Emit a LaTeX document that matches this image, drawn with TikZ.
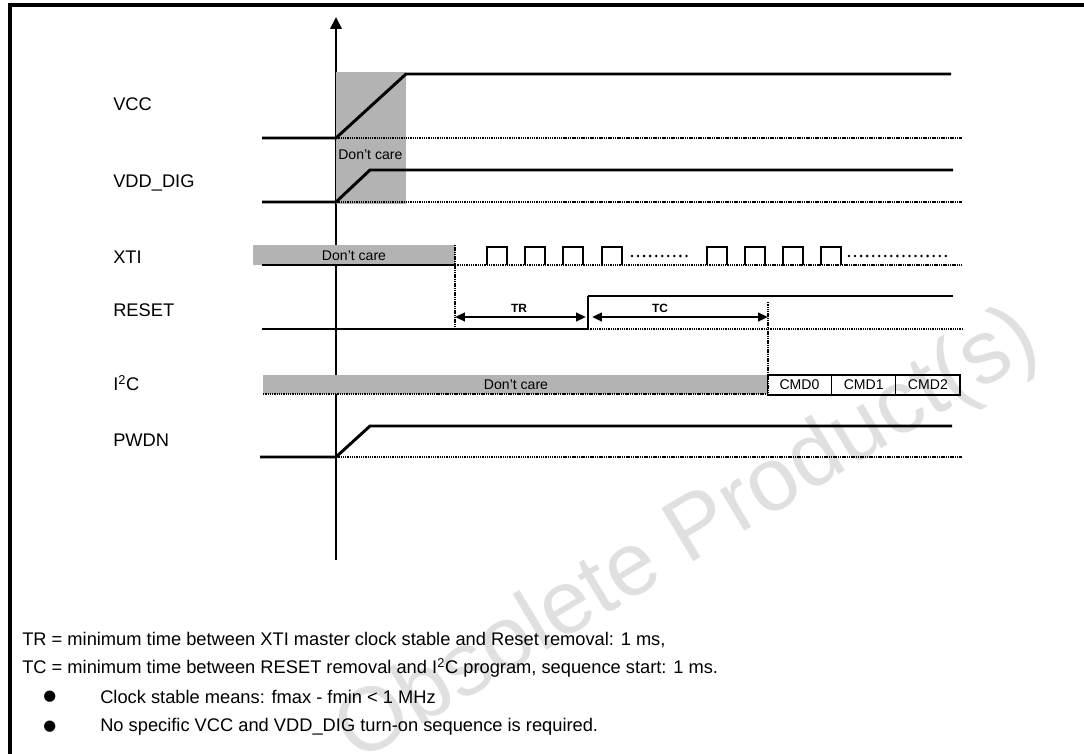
\documentclass[tikz,border=0pt]{standalone}
\usepackage{fontspec}
\setmainfont{Liberation Sans}
\newfontfamily\symfont{DejaVu Sans}
\usetikzlibrary{arrows.meta, positioning}
\definecolor{dcgray}{RGB}{179,179,179}
\definecolor{wmgray}{RGB}{224,224,224}

\begin{document}
\begin{tikzpicture}[
    x=0.025cm, y=-0.025cm,
    sig/.style={line width=2.1pt},
    idle/.style={line width=1pt, dash pattern=on 1pt off 0.6pt},
    thinedge/.style={line width=0.9pt},
    marker/.style={line width=0.8pt, dash pattern=on 1pt off 0.6pt},
    clkdots/.style={line width=2pt, line cap=round, dash pattern=on 0pt off 4.3pt},
    dim/.style={line width=1.6pt, {Triangle[length=7pt,width=6pt]}-{Triangle[length=7pt,width=6pt]}},
    lbl/.style={anchor=west, inner sep=0pt, font=\fontsize{13}{15}\selectfont},
    note/.style={anchor=west, inner sep=0pt, font=\fontsize{13}{15}\selectfont},
    dctext/.style={inner sep=0pt, font=\fontsize{10}{12}\selectfont},
    ttl/.style={inner sep=0pt, font=\fontsize{8.5}{10}\selectfont\bfseries},
    cmdbox/.style={draw, line width=0.8pt, minimum width=1.605cm, minimum height=0.5cm, inner sep=0pt, font=\fontsize{10}{12}\selectfont},
    wm/.style={rotate=31, text=wmgray, inner sep=0pt, font=\fontsize{64}{70}\selectfont}
]
\useasboundingbox (0,0) rectangle (1084,754);

% filigrane
\node[wm] (wmark) at (665,552) {- Obsolete Product(s)};

% cadre
\draw[line width=2.2pt] (10,754) -- (10,5) -- (1084,5);

% axe du temps
\draw[line width=2pt, -{Triangle[length=8.5pt,width=8pt]}] (336,560) -- (336,17);

% zones don't care
\fill[dcgray] (336,72) rectangle (406,204);
\node[dctext, anchor=west] (dcpow) at (338,155) {Don't care};
\fill[dcgray] (253,245) rectangle (455,265);
\node[dctext] (dcxti) at (354,256) {Don't care};
\fill[dcgray] (263,375) rectangle (767,394);
\node[dctext] (dci2c) at (516,385) {Don't care};

% libelles des signaux
\node[lbl] (vcc) at (113,104) {VCC};
\node[lbl] (vdd) at (113,183) {VDD\_DIG};
\node[lbl] (xti) at (113,257) {XTI};
\node[lbl] (reset) at (113,310) {RESET};
\node[lbl] (i2c) at (113,383) {I\textsuperscript{2}C};
\node[lbl] (pwdn) at (113,440) {PWDN};

% VCC et VDD_DIG
\draw[sig] (262,138) -- (336,138) -- (406,74) -- (951,74);
\draw[idle] (336,138) -- (962,138);
\draw[sig] (262,202) -- (336,202) -- (370,170) -- (953,170);
\draw[idle] (336,202) -- (962,202);

% XTI
\draw[thinedge] (262,265) -- (455,265);
\draw[idle] (455,265) -- (962,265);
\foreach \x in {487,525,563,602,707,745,783,821}
    \draw[thinedge] (\x,265) -- (\x,247) -- ++(20,0) -- ++(0,18);
\draw[clkdots] (632,256) -- (688,256);
\draw[clkdots] (849,256) -- (950,256);
\coordinate (xtistop) at (455,245);

% RESET
\draw[sig] (262,329) -- (588,329);
\draw[thinedge] (588,329) -- (588,296);
\draw[sig] (588,296) -- (953,296);
\draw[idle] (588,329) -- (962,329);
\coordinate (rstup) at (588,317);
\coordinate (tcend) at (768,302);

% reperes TR et TC
\draw[marker] (xtistop) -- (455,329);
\draw[marker] (tcend) -- (768,394);
\draw[dim] (455,317) -- ([xshift=-0.05cm]rstup);
\draw[dim] ([xshift=0.1cm]rstup) -- (768,317);
\node[ttl] (tr) at (519,308) {TR};
\node[ttl] (tc) at (660,308) {TC};

% I2C
\draw[idle] (263,394) -- (767,394);
\foreach \i in {0,1,2}
    \node[cmdbox] (cmd\i) at (799.5+64.2*\i,385) {CMD\i};

% PWDN
\draw[sig] (260,457) -- (336,457) -- (370,426) -- (952,426);
\draw[idle] (336,457) -- (962,457);

% notes
\node[note] (trnote) at (22,640) {TR = minimum time between XTI master clock stable and Reset removal: 1 ms,};
\node[note] (tcnote) at (22,668) {TC = minimum time between RESET removal and I\textsuperscript{2}C program, sequence start: 1 ms.};
\node[note, font=\symfont\fontsize{10.5}{12}\selectfont] (bul1) at (43,697) {●};
\node[note] (clknote) at (100,697) {Clock stable means: fmax - fmin < 1 MHz};
\node[note, font=\symfont\fontsize{10.5}{12}\selectfont] (bul2) at (43,727) {●};
\node[note] (seqnote) at (100,727) {No specific VCC and VDD\_DIG turn-on sequence is required.};

\end{tikzpicture}
\end{document}
